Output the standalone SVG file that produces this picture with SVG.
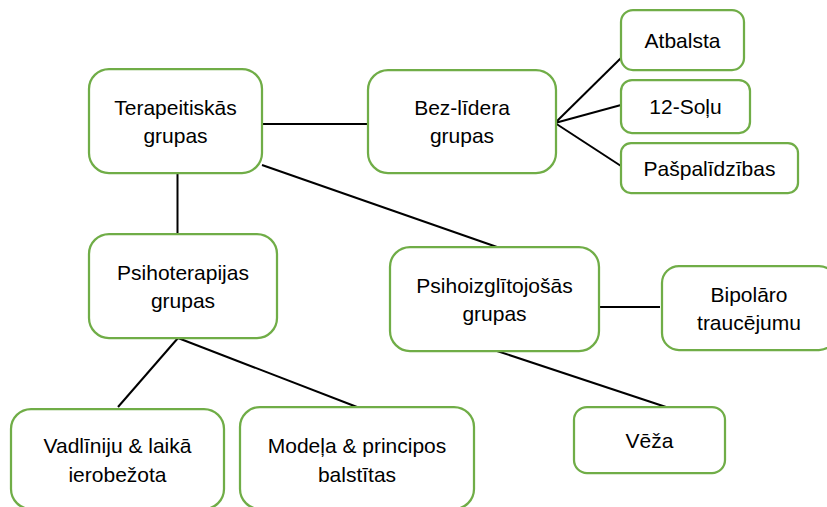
<svg xmlns="http://www.w3.org/2000/svg" width="827" height="507" viewBox="0 0 827 507">
<style>
.box{fill:#ffffff;stroke:#70AD47;stroke-width:2.25}
.lbl{font-family:"Liberation Sans",Arial,sans-serif;font-size:21px;fill:#000000;text-anchor:middle}
.con line{stroke:#000000;stroke-width:2}
</style>
<rect width="827" height="507" fill="#ffffff"/>
<g id="connectors" class="con">
<line x1="262" y1="124" x2="368" y2="124"/>
<line x1="555" y1="123" x2="621" y2="58"/>
<line x1="555" y1="123" x2="621" y2="105"/>
<line x1="555" y1="123" x2="621" y2="166"/>
<line x1="177.5" y1="173" x2="177.5" y2="234"/>
<line x1="262" y1="165" x2="497" y2="247"/>
<line x1="178" y1="338" x2="118" y2="407"/>
<line x1="178" y1="338" x2="357" y2="407"/>
<line x1="595" y1="307" x2="660" y2="307"/>
<line x1="497" y1="351" x2="666" y2="407"/>
</g>
<g id="terapeitiskas">
<rect class="box" x="89" y="69" width="173" height="104" rx="20"/>
<text class="lbl" x="175.5" y="115">Terapeitiskās</text>
<text class="lbl" x="175.5" y="143">grupas</text>
</g>
<g id="bez-lidera">
<rect class="box" x="368" y="70" width="188" height="103" rx="20"/>
<text class="lbl" x="462" y="115">Bez-līdera</text>
<text class="lbl" x="462" y="143">grupas</text>
</g>
<g id="atbalsta">
<rect class="box" x="621" y="10" width="123" height="60" rx="12"/>
<text class="lbl" x="682.5" y="48">Atbalsta</text>
</g>
<g id="soli">
<rect class="box" x="621" y="80" width="129" height="53" rx="11"/>
<text class="lbl" x="685.5" y="114">12-Soļu</text>
</g>
<g id="pasp">
<rect class="box" x="621" y="143" width="177" height="50" rx="10"/>
<text class="lbl" x="709.5" y="176">Pašpalīdzības</text>
</g>
<g id="psihoterapijas">
<rect class="box" x="89" y="234" width="188" height="104" rx="20"/>
<text class="lbl" x="183" y="280">Psihoterapijas</text>
<text class="lbl" x="183" y="308">grupas</text>
</g>
<g id="psihoizglitojosas">
<rect class="box" x="390" y="247" width="209" height="104" rx="20"/>
<text class="lbl" x="494.5" y="293">Psihoizglītojošās</text>
<text class="lbl" x="494.5" y="321">grupas</text>
</g>
<g id="bipolaro">
<rect class="box" x="662" y="266" width="174" height="84" rx="17"/>
<text class="lbl" x="749" y="302">Bipolāro</text>
<text class="lbl" x="749" y="330">traucējumu</text>
</g>
<g id="vadliniju">
<rect class="box" x="11" y="409" width="213" height="100" rx="20"/>
<text class="lbl" x="117.5" y="453">Vadlīniju &amp; laikā</text>
<text class="lbl" x="117.5" y="482">ierobežota</text>
</g>
<g id="modela">
<rect class="box" x="240" y="407" width="234" height="102" rx="20"/>
<text class="lbl" x="357" y="453">Modeļa &amp; principos</text>
<text class="lbl" x="357" y="482">balstītas</text>
</g>
<g id="veza">
<rect class="box" x="574" y="407" width="151" height="66" rx="13"/>
<text class="lbl" x="649.5" y="448">Vēža</text>
</g>
</svg>
